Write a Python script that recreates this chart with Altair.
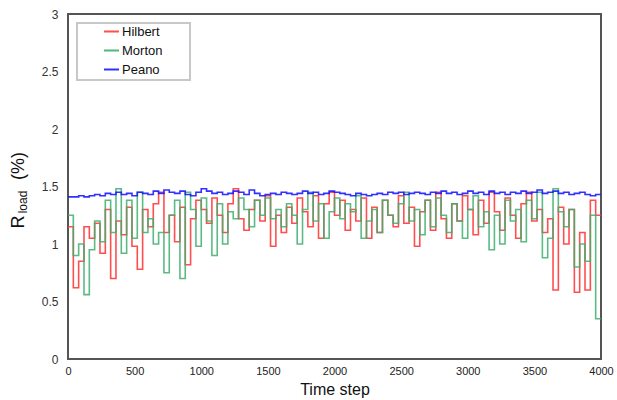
import altair as alt
import pandas as pd

# time steps (each value holds for 40 steps)
step = 40
hilbert = [1.15, 0.62, 0.85, 1.15, 1.05, 1.18, 0.92, 1.30, 0.70, 1.20,
           1.08, 1.32, 0.98, 0.78, 1.30, 1.15, 1.35, 1.45, 1.10, 1.25,
           1.02, 1.32, 0.82, 1.22, 1.38, 1.30, 1.18, 1.40, 1.25, 1.10,
           1.35, 1.48, 1.22, 1.12, 1.30, 1.38, 1.20, 1.42, 0.98, 1.25,
           1.10, 1.32, 1.18, 1.40, 1.28, 1.15, 1.42, 1.05, 1.35, 1.45,
           1.25, 1.38, 1.12, 1.30, 1.20, 1.40, 1.05, 1.32, 1.10, 1.38,
           1.25, 1.15, 1.42, 1.18, 1.32, 0.98, 1.28, 1.38, 1.12, 1.45,
           1.22, 1.05, 1.35, 1.20, 1.42, 1.30, 1.08, 1.38, 1.18, 1.45,
           1.28, 1.12, 1.40, 1.25, 1.05, 1.35, 1.45, 1.20, 1.30, 1.10,
           1.22, 0.60, 1.32, 1.00, 1.30, 0.58, 1.10, 0.60, 1.38, 1.25]
morton = [1.25, 0.90, 1.00, 0.56, 0.95, 1.20, 1.02, 1.38, 1.10, 1.48,
          0.92, 1.38, 1.05, 1.45, 1.10, 1.22, 1.00, 1.10, 0.75, 1.25,
          1.38, 0.70, 1.45, 1.30, 0.98, 1.40, 1.20, 0.90, 1.35, 1.00,
          1.28, 1.22, 1.40, 1.30, 1.15, 1.38, 1.25, 1.40, 1.22, 1.30,
          1.15, 1.35, 1.25, 1.00, 1.30, 1.45, 1.20, 1.35, 1.05, 1.28,
          1.40, 1.22, 1.35, 1.28, 1.42, 1.05, 1.20, 1.30, 1.10, 1.38,
          1.25, 1.18, 1.35, 1.45, 1.20, 1.30, 1.08, 1.38, 1.15, 1.40,
          1.25, 1.10, 1.35, 1.20, 1.05, 1.30, 1.42, 1.15, 1.28, 0.95,
          1.25, 1.00, 1.38, 1.20, 1.30, 1.02, 1.38, 1.22, 1.45, 0.88,
          1.05, 1.48, 1.28, 1.15, 1.30, 0.80, 1.00, 0.85, 1.25, 0.35]
peano = [1.41, 1.41, 1.42, 1.41, 1.42, 1.43, 1.42, 1.44, 1.43, 1.45,
         1.43, 1.44, 1.42, 1.45, 1.44, 1.43, 1.46, 1.44, 1.47, 1.45,
         1.44, 1.46, 1.43, 1.42, 1.45, 1.48, 1.46, 1.44, 1.45, 1.43,
         1.44, 1.46, 1.45, 1.43, 1.47, 1.44, 1.42, 1.43, 1.44, 1.43,
         1.45, 1.44, 1.43, 1.44, 1.46, 1.44, 1.45, 1.43, 1.44, 1.46,
         1.45, 1.44, 1.43, 1.42, 1.44, 1.43, 1.42, 1.43, 1.44, 1.43,
         1.45, 1.44, 1.45, 1.43, 1.44, 1.45, 1.44, 1.43, 1.45, 1.44,
         1.46, 1.44, 1.45, 1.43, 1.44, 1.46, 1.44, 1.45, 1.43, 1.46,
         1.44, 1.45, 1.43, 1.45, 1.44, 1.46, 1.44, 1.45, 1.47, 1.44,
         1.45, 1.46, 1.44, 1.45, 1.43, 1.44, 1.45, 1.43, 1.42, 1.43]
x_ticks = [0, 500, 1000, 1500, 2000, 2500, 3000, 3500, 4000]
y_ticks = [0, 0.5, 1, 1.5, 2, 2.5, 3]

rows = []
for name, vals in [("Hilbert", hilbert), ("Morton", morton), ("Peano", peano)]:
    for i, v in enumerate(vals):
        rows.append({"t": i * step, "v": v, "curve": name})
    rows.append({"t": len(vals) * step, "v": vals[-1], "curve": name})
df = pd.DataFrame(rows)

FONT = "Liberation Sans"

lines = alt.Chart(df).mark_line(interpolate="step-after", strokeWidth=1.6).encode(
    x=alt.X("t:Q", scale=alt.Scale(domain=[0, 4000], nice=False),
            axis=alt.Axis(values=x_ticks, format="d", title="Time step", grid=False,
                          ticks=False, domain=False, labelFontSize=11, labelColor="#222",
                          labelPadding=6, titleFontSize=16, titleFontWeight="normal",
                          titleColor="#111", titlePadding=5, labelFont=FONT, titleFont=FONT,
                          labelFlush=False)),
    y=alt.Y("v:Q", scale=alt.Scale(domain=[0, 3], nice=False),
            axis=alt.Axis(values=y_ticks, format="~g", title=None, grid=False, ticks=False,
                          domain=False, labelFontSize=12, labelColor="#333",
                          labelPadding=10, labelFont=FONT, labelFlush=False)),
    color=alt.Color("curve:N",
                    scale=alt.Scale(domain=["Hilbert", "Morton", "Peano"],
                                    range=["#ff3b3b", "#3fae6e", "#1a1aff"]),
                    legend=alt.Legend(title=None, orient="none", legendX=35, legendY=9,
                                      padding=0, symbolType="stroke", symbolSize=225,
                                      symbolStrokeWidth=2, symbolOffset=0,
                                      labelFontSize=13, labelFont=FONT, labelColor="#111",
                                      rowPadding=3, labelOffset=2)),
    order=alt.Order("curve:N", sort="ascending"),
    opacity=alt.condition(alt.datum.curve == "Morton", alt.value(0.85), alt.value(0.9)),
)

legend_box = alt.Chart(pd.DataFrame({"k": [0]})).mark_rect(
    fill=None, stroke="#c8c8c8", strokeWidth=2).encode(
    x=alt.value(9), x2=alt.value(122), y=alt.value(9), y2=alt.value(66))

def label(txt, x, y, size):
    return alt.Chart(pd.DataFrame({"s": [txt]})).mark_text(
        angle=270, align="center", baseline="middle", fontSize=size,
        font=FONT, color="#111").encode(x=alt.value(x), y=alt.value(y), text="s:N")

chart = alt.layer(
    legend_box,
    lines,
    label("R", -49, 208, 18),
    label("load", -45, 188, 12),
    label("(%)", -49, 152, 18),
).properties(
    width=533, height=345,
    autosize=alt.AutoSizeParams(type="none"),
    padding={"left": 68, "top": 14, "right": 16, "bottom": 41},
).configure_view(stroke="#555", strokeWidth=2)

chart.save("out.html", embed_options={"renderer": "svg", "actions": False})
